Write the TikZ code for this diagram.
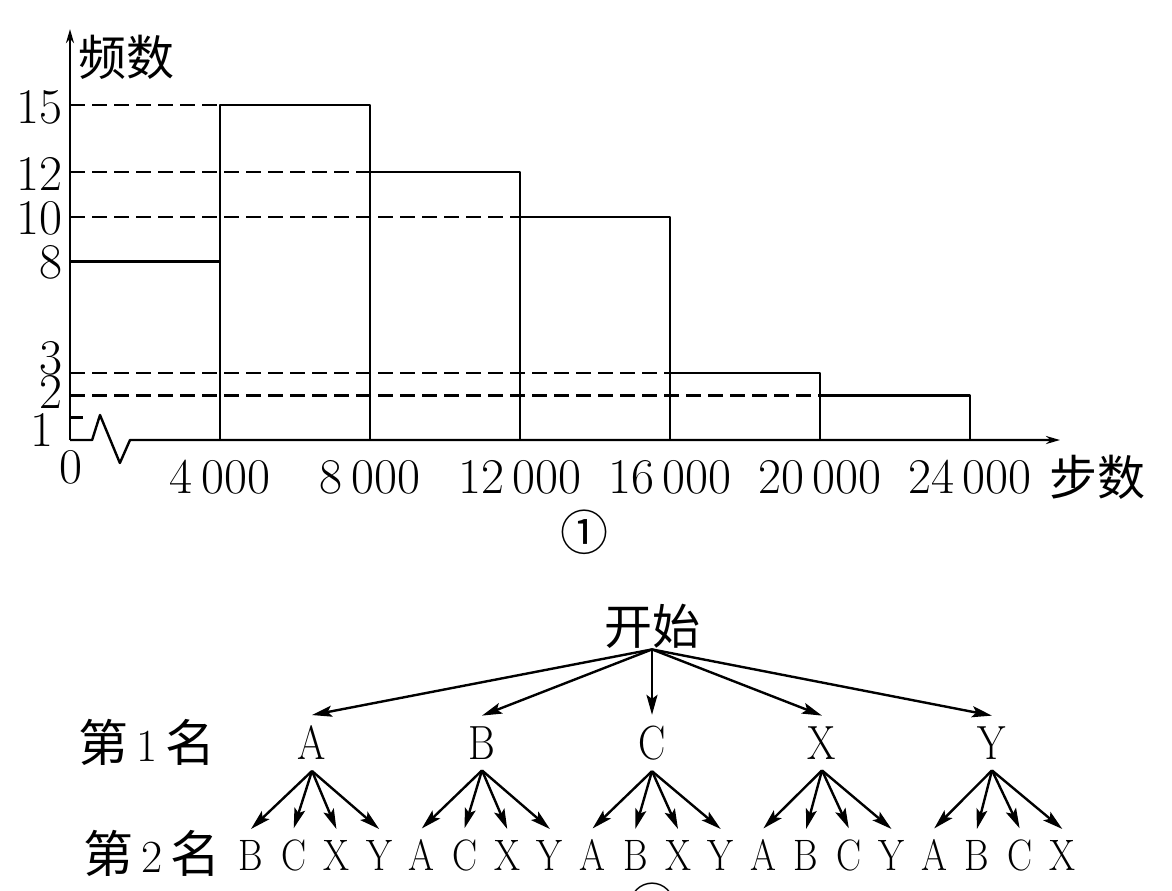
\documentclass[tikz,border=0pt]{standalone}
\usepackage{fontspec}
\newfontfamily\cjk{Noto Sans CJK SC}
\usetikzlibrary{arrows.meta,positioning}
\newcommand\narrow[1]{\scalebox{0.85}[1]{#1}}
\tikzset{
	dashline/.style={dash pattern=on 7.5pt off 3.5pt},
	axis/.style={-{Stealth[length=7pt,width=4pt]}},
	cn/.style={inner sep=0pt, font=\fontsize{24}{28}\selectfont\cjk},
	letter/.style={inner sep=0pt, outer sep=5.5pt},
	branch/.style={-{Stealth[length=10pt,width=5.5pt,inset=2pt]}}
}
\begin{document}
\begin{tikzpicture}[x=0.5pt,y=-0.5pt, line width=1.2pt, line join=round, font=\fontsize{25}{30}\selectfont]
	\useasboundingbox (0,0) rectangle (1172,890);
	% histogram
	\begin{scope}[shift={(35pt,-220pt)},x=18.75pt,y=11.165pt]
		\def\xmax{26.4} \def\ymax{18.4}
		\draw[axis] (0,0)--(0,\ymax);
		\draw[axis] (0,0)--(0.59,0)--(0.8,1.12)--(1.33,-1.03)--(1.6,0)--(\xmax,0);
		\draw (0,1)--(0.35,1);
		\draw[dashline] (0,15)--(4,15) (0,12)--(8,12) (0,10)--(12,10) (0,3)--(16,3) (0,2)--(20,2);
		\draw (0,8)--(4,8) (4,0)--(4,15)--(8,15)--(8,0) (8,12)--(12,12)--(12,0)
			(12,10)--(16,10)--(16,0) (16,3)--(20,3)--(20,0) (20,2)--(24,2)--(24,0);
		\foreach \v/\p in {15/14.91,12/11.91,10/9.94,8/7.97,3/3.67,2/2.15}
			\node[inner sep=0pt,anchor=east] (y\v) at (-0.16,\p) {\v};
		\node[inner sep=0pt,anchor=east] (y1) at (-0.4,0.45) {1};
		\node[inner sep=0pt] (y0) at (0.03,-1.21) {0};
		\foreach \s/\t in {4/{4\,000},8/{8\,000},12/{12\,000},16/{16\,000},20/{20\,000},24/{24\,000}}
			\node[inner sep=0pt] (x\s) at (\s,-1.66) {\t};
		\node[cn] (bushu) at (27.39,-1.66) {步数};
		\node[cn,anchor=west] (pinshu) at (0.19,17.15) {频数};
		\node[cn] (fig1) at (13.73,-4.12) {①};
	\end{scope}
	% tree
	\node[cn] (kaishi) at (652,626) {开始};
	\node[anchor=east,inner sep=0pt] (rank1) at (217,742) {{\cjk 第}\,{\fontsize{23}{26}\selectfont 1}\,{\cjk 名}};
	\node[anchor=east,inner sep=0pt] (rank2) at (222,853) {{\cjk 第}\,{\fontsize{23}{26}\selectfont 2}\,{\cjk 名}};
	\foreach \l [count=\i from 0] in {A,B,C,X,Y}{
		\node[letter,font=\fontsize{24}{28}\selectfont] (f\l) at ({312+170*\i},743) {\narrow{\l}};
		\draw[branch] (kaishi.south)--(f\l.north);
	}
	\foreach \p/\kids [count=\i from 0] in {A/{B,C,X,Y},B/{A,C,X,Y},C/{A,B,X,Y},X/{A,B,C,Y},Y/{A,B,C,X}}
		\foreach \k [count=\j from 0] in \kids {
			\node[letter,font=\fontsize{22}{26}\selectfont] (s\p\k) at ({251+42.7*(4*\i+\j)},855) {\narrow{\k}};
			\draw[branch] (f\p.south)--(s\p\k.north);
		}
	\node[cn] (fig2) at (652,905) {②};
\end{tikzpicture}
\end{document}
